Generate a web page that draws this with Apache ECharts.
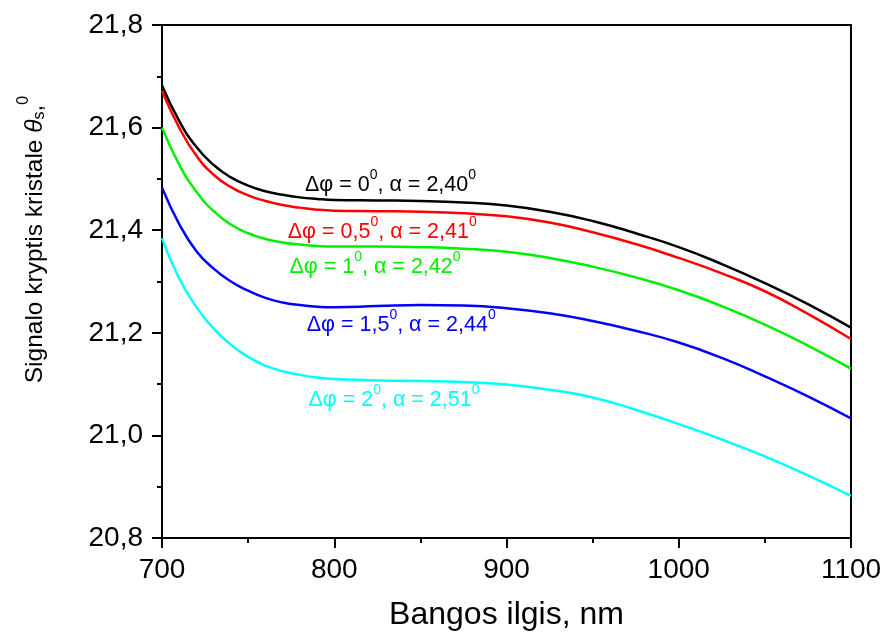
<!DOCTYPE html>
<html>
<head>
<meta charset="utf-8">
<style>
  html, body { margin: 0; padding: 0; background: #fff; }
  #chart { width: 887px; height: 636px; }
</style>
<script src="https://cdn.jsdelivr.net/npm/echarts@6/dist/echarts.min.js"></script>
</head>
<body>
<div id="chart"></div>
<script>
// Wavelength grid, nm
const wavelength = [700, 710, 720, 730, 740, 750, 760, 770, 780, 790, 800, 825, 850, 875, 900, 925, 950, 975, 1000, 1025, 1050, 1075, 1100];

// Signal direction in the crystal, degrees, for each Δφ / α pair
const dphi0  = [21.682, 21.613, 21.562, 21.527, 21.503, 21.487, 21.476, 21.469, 21.464, 21.461, 21.459, 21.458, 21.457, 21.454, 21.448, 21.436, 21.418, 21.394, 21.367, 21.334, 21.297, 21.256, 21.210];
const dphi05 = [21.672, 21.600, 21.545, 21.508, 21.484, 21.468, 21.457, 21.449, 21.444, 21.440, 21.438, 21.437, 21.436, 21.433, 21.427, 21.415, 21.396, 21.373, 21.346, 21.316, 21.281, 21.237, 21.188];
const dphi1  = [21.600, 21.528, 21.475, 21.437, 21.411, 21.394, 21.383, 21.376, 21.372, 21.369, 21.368, 21.368, 21.367, 21.364, 21.358, 21.346, 21.329, 21.308, 21.283, 21.252, 21.216, 21.175, 21.130];
const dphi15 = [21.483, 21.412, 21.359, 21.325, 21.300, 21.282, 21.268, 21.259, 21.254, 21.251, 21.250, 21.252, 21.254, 21.253, 21.248, 21.238, 21.223, 21.204, 21.181, 21.151, 21.115, 21.076, 21.033];
const dphi2  = [21.384, 21.306, 21.250, 21.208, 21.177, 21.153, 21.136, 21.125, 21.118, 21.113, 21.110, 21.107, 21.106, 21.104, 21.099, 21.089, 21.074, 21.050, 21.022, 20.992, 20.959, 20.922, 20.882];

// Curve captions: Δφ and α values (degrees)
const dphiText  = ['0', '0,5', '1', '1,5', '2'];
const alphaText = ['2,40', '2,41', '2,42', '2,44', '2,51'];

// Axis ticks
const xTicks = [700, 800, 900, 1000, 1100];
const yTicks = ['20,8', '21,0', '21,2', '21,4', '21,6', '21,8'];

const FONT = 'Liberation Sans, Arial, sans-serif';

const curves = [
  { values: dphi0,  color: '#000000', at: [783, 21.493] },
  { values: dphi05, color: '#ff0000', at: [773, 21.402] },
  { values: dphi1,  color: '#00ee00', at: [774, 21.334] },
  { values: dphi15, color: '#0000ff', at: [784, 21.221] },
  { values: dphi2,  color: '#00ffff', at: [785, 21.074] }
];

const series = curves.map((c, i) => ({
  type: 'line',
  name: 'Δφ = ' + dphiText[i],
  data: wavelength.map((w, k) => [w, c.values[k]]),
  showSymbol: false,
  smooth: 0.5,
  lineStyle: { color: c.color, width: 2.5 },
  itemStyle: { color: c.color },
  silent: true,
  markPoint: {
    symbol: 'circle',
    symbolSize: 0,
    silent: true,
    data: [{ coord: c.at }],
    label: {
      show: true,
      position: [0, 0],
      align: 'left',
      verticalAlign: 'middle',
      formatter: '{t|Δφ = ' + dphiText[i] + '}{s|0}{t|, α = ' + alphaText[i] + '}{s|0}',
      rich: {
        t: { fontFamily: FONT, fontSize: 21.5, color: c.color, lineHeight: 28, verticalAlign: 'bottom' },
        s: { fontFamily: FONT, fontSize: 14, color: c.color, lineHeight: 14, verticalAlign: 'top' }
      }
    }
  }
}));

const chart = echarts.init(document.getElementById('chart'), null, { renderer: 'canvas' });
chart.setOption({
  animation: false,
  backgroundColor: '#ffffff',
  grid: {
    left: 162, top: 25, right: 36, bottom: 98,
    show: true, borderColor: '#000', borderWidth: 2, backgroundColor: 'transparent'
  },
  xAxis: {
    type: 'value',
    min: 700, max: 1100, interval: 100,
    name: 'Bangos ilgis, nm',
    nameLocation: 'middle',
    nameGap: 61,
    nameTextStyle: { fontFamily: FONT, fontSize: 32, color: '#000' },
    axisLine: { show: true, onZero: false, lineStyle: { color: '#000', width: 2 } },
    axisTick: { show: true, inside: false, length: 10, lineStyle: { color: '#000', width: 2 } },
    minorTick: { show: true, splitNumber: 2, length: 5, lineStyle: { color: '#000', width: 2 } },
    splitLine: { show: false },
    axisLabel: {
      margin: 18, fontFamily: FONT, fontSize: 28, color: '#000',
      formatter: v => (xTicks.indexOf(v) >= 0 ? String(v) : '')
    }
  },
  yAxis: {
    type: 'value',
    min: 20.8, max: 21.8, interval: 0.2,
    name: '{t|Signalo kryptis kristale }{th|θ}{sub|s}{t|,}{sup|0}',
    nameLocation: 'middle',
    nameGap: 114,
    nameTextStyle: {
      padding: [0, 0, 0, 84],
      rich: {
        t: { fontFamily: FONT, fontSize: 24.5, color: '#000', lineHeight: 32, verticalAlign: 'bottom' },
        th: { fontFamily: FONT, fontSize: 24.5, fontStyle: 'italic', color: '#000', lineHeight: 32, verticalAlign: 'bottom' },
        sub: { fontFamily: FONT, fontSize: 16, color: '#000', lineHeight: 16, verticalAlign: 'bottom' },
        sup: { fontFamily: FONT, fontSize: 16, color: '#000', lineHeight: 16, verticalAlign: 'top' }
      }
    },
    axisLine: { show: true, onZero: false, lineStyle: { color: '#000', width: 2 } },
    axisTick: { show: true, inside: false, length: 10, lineStyle: { color: '#000', width: 2 } },
    minorTick: { show: true, splitNumber: 2, length: 5, lineStyle: { color: '#000', width: 2 } },
    splitLine: { show: false },
    axisLabel: {
      margin: 19, fontFamily: FONT, fontSize: 28, color: '#000',
      formatter: v => {
        const idx = Math.round((v - 20.8) / 0.2);
        return yTicks[idx] !== undefined ? yTicks[idx] : '';
      }
    }
  },
  series: series
});
</script>
</body>
</html>
